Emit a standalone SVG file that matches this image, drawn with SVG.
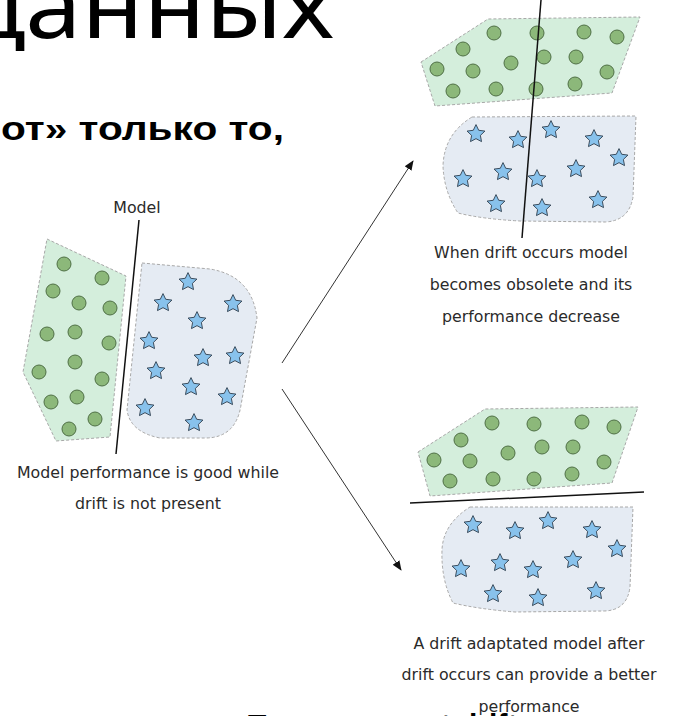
<svg xmlns="http://www.w3.org/2000/svg" xmlns:xlink="http://www.w3.org/1999/xlink" width="673" height="716" viewBox="0 0 673 716">
<style>
.grn{fill:#d4eedc;stroke:#a8a8a8;stroke-width:1;stroke-dasharray:3,2}
.blu{fill:#e5ebf3;stroke:#a8a8a8;stroke-width:1;stroke-dasharray:3,2}
.dot{fill:#8cb87a;stroke:#4f6f45;stroke-width:1}
.st{fill:#88c2ec;stroke:#2f3e4e;stroke-width:0.9;stroke-linejoin:round}
.mdl{stroke:#111;stroke-width:1.5;fill:none}
.cap{font-family:"DejaVu Sans",sans-serif;font-size:15.8px;fill:#2a2a2a;text-anchor:middle}
.arr{stroke:#333;stroke-width:1;fill:none;marker-end:url(#ah)}
.ttl{font-family:"Noto Sans","DejaVu Sans",sans-serif;fill:#000}
.bld{font-family:"Liberation Sans",Arial,sans-serif;font-weight:bold;fill:#000}
</style>
<defs>
<marker id="ah" viewBox="0 0 10 10" refX="9" refY="5" markerWidth="10" markerHeight="10" markerUnits="userSpaceOnUse" orient="auto">
<path d="M0,1 L10,5 L0,9 Z" fill="#111"/>
</marker>
<path id="star" class="st" d="M0,-9.4 L2.7,-3.72 L8.94,-2.9 L4.38,1.42 L5.53,7.6 L0,4.65 L-5.53,7.6 L-4.38,1.42 L-8.94,-2.9 L-2.7,-3.72 Z"/>
</defs>
<rect width="673" height="716" fill="#fff"/>

<g id="slide-title">
<text class="ttl" x="-36" y="38" font-size="92" textLength="370" lengthAdjust="spacingAndGlyphs">данных</text>
</g>
<g id="slide-text">
<text class="bld" x="1" y="140" font-size="34" textLength="283" lengthAdjust="spacingAndGlyphs">от» только то,</text>
</g>

<g id="connectors">
<line class="arr" x1="282" y1="363" x2="413" y2="161"/>
<line class="arr" x1="282" y1="389" x2="401" y2="570"/>
</g>

<g id="cluster-before">
<polygon class="grn" points="47,239 126,276 110,437 56,441 23,372"/>
<path class="blu" d="M142,263 L210,269 Q252,276 257,318 L241,405 Q236,438 205,438 L160,438 Q130,432 127,410 Z"/>
<g>
<circle class="dot" cx="64" cy="264" r="7"/><circle class="dot" cx="102" cy="278" r="7"/>
<circle class="dot" cx="53" cy="291" r="7"/><circle class="dot" cx="79" cy="303" r="7"/>
<circle class="dot" cx="110" cy="308" r="7"/><circle class="dot" cx="47" cy="334" r="7"/>
<circle class="dot" cx="75" cy="332" r="7"/><circle class="dot" cx="109" cy="343" r="7"/>
<circle class="dot" cx="75" cy="362" r="7"/><circle class="dot" cx="39" cy="372" r="7"/>
<circle class="dot" cx="102" cy="379" r="7"/><circle class="dot" cx="51" cy="402" r="7"/>
<circle class="dot" cx="77" cy="397" r="7"/><circle class="dot" cx="95" cy="419" r="7"/>
<circle class="dot" cx="69" cy="429" r="7"/>
</g>
<g>
<use xlink:href="#star" x="188" y="282"/><use xlink:href="#star" x="163" y="303"/>
<use xlink:href="#star" x="233" y="304"/><use xlink:href="#star" x="197" y="321"/>
<use xlink:href="#star" x="149" y="341"/><use xlink:href="#star" x="203" y="358"/>
<use xlink:href="#star" x="235" y="356"/><use xlink:href="#star" x="156" y="371"/>
<use xlink:href="#star" x="191" y="387"/><use xlink:href="#star" x="227" y="397"/>
<use xlink:href="#star" x="145" y="408"/><use xlink:href="#star" x="194" y="423"/>
</g>
<line class="mdl" x1="139" y1="220" x2="116" y2="454"/>
<text class="cap" x="137" y="213">Model</text>
<text class="cap" x="148" y="478">Model performance is good while</text>
<text class="cap" x="148" y="509">drift is not present</text>
</g>

<g id="cluster-obsolete">
<polygon class="grn" points="421,62 488,19 640,17 612,93 435,106"/>
<path class="blu" d="M472,117 L636,116 L633,197 Q629,221 605,222 L520,221 Q482,219 458,213 Q444,192 443,166 Q444,134 472,117 Z"/>
<g>
<circle class="dot" cx="494" cy="33" r="7"/><circle class="dot" cx="537" cy="33" r="7"/>
<circle class="dot" cx="584" cy="32" r="7"/><circle class="dot" cx="617" cy="37" r="7"/>
<circle class="dot" cx="463" cy="49" r="7"/><circle class="dot" cx="544" cy="57" r="7"/>
<circle class="dot" cx="576" cy="57" r="7"/><circle class="dot" cx="511" cy="63" r="7"/>
<circle class="dot" cx="437" cy="69" r="7"/><circle class="dot" cx="473" cy="71" r="7"/>
<circle class="dot" cx="607" cy="72" r="7"/><circle class="dot" cx="453" cy="91" r="7"/>
<circle class="dot" cx="496" cy="89" r="7"/><circle class="dot" cx="536" cy="89" r="7"/>
<circle class="dot" cx="575" cy="84" r="7"/>
</g>
<g>
<use xlink:href="#star" x="476" y="134"/><use xlink:href="#star" x="518" y="140"/>
<use xlink:href="#star" x="551" y="130"/><use xlink:href="#star" x="594" y="139"/>
<use xlink:href="#star" x="619" y="158"/><use xlink:href="#star" x="463" y="179"/>
<use xlink:href="#star" x="503" y="172"/><use xlink:href="#star" x="537" y="179"/>
<use xlink:href="#star" x="576" y="169"/><use xlink:href="#star" x="496" y="204"/>
<use xlink:href="#star" x="542" y="208"/><use xlink:href="#star" x="598" y="200"/>
</g>
<line class="mdl" x1="541" y1="0" x2="522" y2="238"/>
<text class="cap" x="531" y="258">When drift occurs model</text>
<text class="cap" x="531" y="290">becomes obsolete and its</text>
<text class="cap" x="531" y="322">performance decrease</text>
</g>

<g id="cluster-adapted">
<polygon class="grn" points="418,452 485,409 638,407 612,483 430,496"/>
<path class="blu" d="M470,507 L633,507 L630,587 Q627,611 603,611 L515,612 Q478,609 453,603 Q441,580 442,550 Q443,524 470,507 Z"/>
<g>
<circle class="dot" cx="492" cy="423" r="7"/><circle class="dot" cx="534" cy="424" r="7"/>
<circle class="dot" cx="582" cy="422" r="7"/><circle class="dot" cx="614" cy="427" r="7"/>
<circle class="dot" cx="461" cy="440" r="7"/><circle class="dot" cx="542" cy="447" r="7"/>
<circle class="dot" cx="573" cy="447" r="7"/><circle class="dot" cx="508" cy="453" r="7"/>
<circle class="dot" cx="434" cy="460" r="7"/><circle class="dot" cx="470" cy="461" r="7"/>
<circle class="dot" cx="604" cy="462" r="7"/><circle class="dot" cx="450" cy="481" r="7"/>
<circle class="dot" cx="493" cy="479" r="7"/><circle class="dot" cx="534" cy="479" r="7"/>
<circle class="dot" cx="572" cy="474" r="7"/>
</g>
<g>
<use xlink:href="#star" x="473" y="525"/><use xlink:href="#star" x="515" y="531"/>
<use xlink:href="#star" x="548" y="521"/><use xlink:href="#star" x="592" y="530"/>
<use xlink:href="#star" x="617" y="549"/><use xlink:href="#star" x="461" y="569"/>
<use xlink:href="#star" x="500" y="563"/><use xlink:href="#star" x="533" y="570"/>
<use xlink:href="#star" x="573" y="560"/><use xlink:href="#star" x="493" y="594"/>
<use xlink:href="#star" x="538" y="598"/><use xlink:href="#star" x="596" y="591"/>
</g>
<line class="mdl" x1="410" y1="503" x2="644" y2="492"/>
<text class="cap" x="529" y="649">A drift adaptated model after</text>
<text class="cap" x="529" y="680">drift occurs can provide a better</text>
</g>

<g id="bottom-heading">
<text class="bld" x="248" y="735" font-size="30">Типы concept drift</text>
</g>
<text class="cap" x="529" y="712">performance</text>
</svg>
